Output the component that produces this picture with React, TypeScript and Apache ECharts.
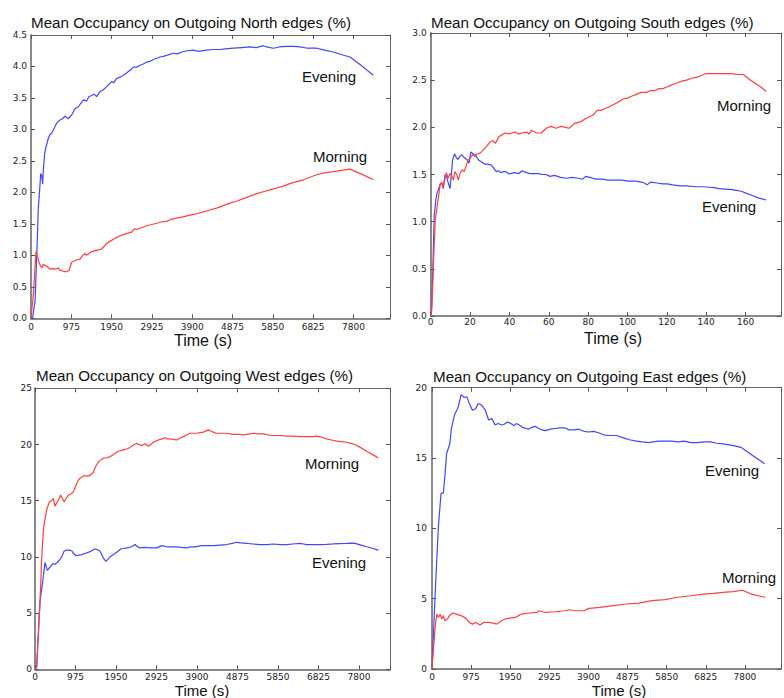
import React, { useEffect, useRef } from 'react';
import * as echarts from 'echarts';

// ---------- data: [time (s), mean occupancy (%)] ----------
const northEvening = [
  [0, 0], [40, 0.02], [97, 0.26], [137, 0.95], [177, 1.75], [218, 2.12], [234, 2.3], [258, 2.27], [282, 2.13], [298, 2.35],
  [330, 2.62], [355, 2.7], [419, 2.86], [460, 2.92], [500, 2.94], [540, 2.99], [621, 3.1], [702, 3.15], [760, 3.17], [822, 3.21],
  [903, 3.17], [983, 3.23], [1064, 3.33], [1145, 3.36], [1266, 3.47], [1346, 3.45], [1400, 3.52], [1467, 3.54], [1530, 3.56],
  [1588, 3.52], [1669, 3.6], [1750, 3.63], [1830, 3.68], [1951, 3.76], [2000, 3.74], [2072, 3.81], [2150, 3.83], [2233, 3.86],
  [2320, 3.9], [2395, 3.94], [2480, 3.99], [2556, 3.99], [2640, 4.02], [2717, 4.04], [2800, 4.07], [2879, 4.08], [2960, 4.11],
  [3040, 4.13], [3120, 4.15], [3201, 4.16], [3300, 4.18], [3443, 4.21], [3540, 4.2], [3644, 4.23], [3780, 4.25], [3926, 4.26],
  [4050, 4.24], [4248, 4.26], [4400, 4.27], [4572, 4.27], [4700, 4.28], [4894, 4.29], [5100, 4.3], [5298, 4.31], [5450, 4.3],
  [5620, 4.33], [5700, 4.31], [5862, 4.29], [6000, 4.31], [6185, 4.32], [6350, 4.32], [6507, 4.31], [6700, 4.29], [6911, 4.29],
  [7100, 4.26], [7313, 4.23], [7500, 4.19], [7717, 4.15], [8000, 4.01], [8281, 3.86],
];
const northMorning = [
  [0, 0], [60, 0.4], [121, 1.06], [153, 1.0], [202, 0.87], [258, 0.8], [298, 0.86], [340, 0.84], [379, 0.83], [460, 0.78],
  [520, 0.79], [581, 0.78], [661, 0.8], [700, 0.76], [742, 0.76], [800, 0.74], [863, 0.74], [919, 0.76], [983, 0.89], [1050, 0.91],
  [1105, 0.93], [1185, 0.94], [1250, 1.0], [1306, 1.03], [1340, 1.0], [1387, 1.02], [1467, 1.06], [1530, 1.07], [1588, 1.08],
  [1709, 1.1], [1770, 1.14], [1830, 1.19], [1930, 1.23], [2032, 1.27], [2120, 1.3], [2233, 1.33], [2330, 1.35], [2435, 1.37],
  [2500, 1.42], [2560, 1.41], [2636, 1.43], [2798, 1.47], [2920, 1.49], [3040, 1.51], [3150, 1.53], [3282, 1.54], [3380, 1.57],
  [3524, 1.59], [3680, 1.61], [3846, 1.64], [4000, 1.66], [4168, 1.69], [4330, 1.72], [4491, 1.75], [4650, 1.79], [4813, 1.83],
  [4970, 1.86], [5136, 1.9], [5300, 1.94], [5458, 1.98], [5620, 2.01], [5781, 2.04], [5940, 2.07], [6103, 2.1], [6260, 2.14],
  [6426, 2.17], [6590, 2.2], [6749, 2.24], [6911, 2.28], [7100, 2.31], [7313, 2.33], [7500, 2.35], [7717, 2.37], [7999, 2.29],
  [8281, 2.2],
];
const southMorning = [
  [0, 0], [0.5, 0.05], [1.0, 0.3], [1.5, 0.61], [2.3, 1.02], [3.0, 1.12], [3.6, 1.21], [4.2, 1.3], [4.8, 1.39], [5.6, 1.42],
  [6.3, 1.36], [7.2, 1.45], [8.0, 1.52], [8.8, 1.46], [9.8, 1.51], [10.8, 1.48], [11.5, 1.44], [12.3, 1.53], [13.2, 1.5],
  [14.0, 1.44], [14.9, 1.51], [16.0, 1.55], [17.0, 1.53], [18.0, 1.59], [18.9, 1.65], [20.0, 1.67], [21.3, 1.71], [22.5, 1.69],
  [23.5, 1.72], [24.6, 1.72], [25.8, 1.74], [27.1, 1.77], [28.5, 1.8], [30.4, 1.85], [31.5, 1.86], [32.9, 1.83], [34.6, 1.9],
  [36.2, 1.92], [37.9, 1.94], [39.5, 1.93], [41.2, 1.94], [42.9, 1.95], [44.5, 1.93], [46.2, 1.94], [48.7, 1.95], [50, 1.93],
  [51.2, 1.97], [53.7, 1.94], [56.2, 1.94], [58.7, 1.99], [61.2, 2.01], [63.7, 1.99], [66.3, 2.01], [68.5, 2.0], [70.4, 1.99],
  [72.9, 2.04], [76.3, 2.06], [78.5, 2.09], [80.4, 2.11], [82.5, 2.13], [84.6, 2.18], [86.5, 2.18], [88.7, 2.2], [91, 2.22],
  [93.7, 2.25], [95.5, 2.27], [97.8, 2.3], [100, 2.31], [102, 2.33], [104.5, 2.35], [107, 2.37], [109.5, 2.37], [111.9, 2.39],
  [114, 2.39], [116, 2.41], [118, 2.41], [120.2, 2.43], [122.5, 2.45], [125.1, 2.47], [127.5, 2.49], [130, 2.5], [132.5, 2.52],
  [135, 2.53], [137.5, 2.55], [139.9, 2.57], [143, 2.57], [146.5, 2.57], [150, 2.57], [153.2, 2.57], [156, 2.56], [158.9, 2.56],
  [161.8, 2.51], [164.7, 2.47], [167.6, 2.43], [170.5, 2.38],
];
const southEvening = [
  [0, 0], [0.5, 0.1], [1.0, 0.43], [1.8, 1.07], [2.6, 1.23], [3.2, 1.3], [3.9, 1.34], [4.8, 1.4], [5.6, 1.41], [6.4, 1.35],
  [7.3, 1.5], [8.0, 1.48], [8.8, 1.42], [9.8, 1.35], [10.5, 1.5], [11.1, 1.65], [12.1, 1.72], [13.0, 1.68], [13.8, 1.66],
  [14.8, 1.69], [15.8, 1.71], [17.0, 1.68], [18.3, 1.66], [19.5, 1.62], [20.4, 1.74], [21.4, 1.72], [22.5, 1.71], [23.5, 1.68],
  [24.5, 1.65], [26, 1.63], [27.5, 1.61], [29, 1.61], [30.8, 1.6], [32, 1.57], [33.3, 1.53], [34.5, 1.54], [35.7, 1.52],
  [37, 1.53], [38.2, 1.53], [39.5, 1.51], [40.7, 1.51], [42.5, 1.52], [44.8, 1.51], [46.5, 1.54], [48.5, 1.52], [50.6, 1.51],
  [52.5, 1.51], [54.8, 1.51], [56.5, 1.5], [58.5, 1.5], [60.6, 1.48], [63, 1.49], [66, 1.47], [68.9, 1.46], [72, 1.47],
  [75, 1.46], [77.1, 1.45], [78.8, 1.48], [81, 1.47], [83.8, 1.45], [87, 1.45], [90, 1.44], [93.7, 1.44], [97, 1.44],
  [100.3, 1.43], [104, 1.43], [107, 1.42], [108.6, 1.41], [109.9, 1.39], [111.9, 1.42], [115, 1.41], [118, 1.4], [120.2, 1.4],
  [123, 1.39], [126.8, 1.38], [130, 1.38], [135, 1.37], [138, 1.37], [141.6, 1.365], [144, 1.36], [146.5, 1.35], [150, 1.345],
  [153.2, 1.34], [156, 1.33], [158.1, 1.32], [160.5, 1.3], [163.1, 1.28], [166.8, 1.25], [170.5, 1.23],
];
const westMorning = [
  [0, 0], [40, 0.2], [120, 6.0], [161, 9.9], [200, 12.3], [224, 13.0], [281, 14.2], [345, 14.9], [400, 15.0], [441, 15.2],
  [481, 14.5], [537, 14.9], [580, 15.2], [618, 15.5], [660, 15.2], [698, 14.9], [750, 15.2], [802, 15.5], [860, 15.6], [907, 15.7],
  [950, 16.0], [987, 16.4], [1040, 16.8], [1083, 17.0], [1163, 17.2], [1230, 17.2], [1307, 17.2], [1360, 17.4], [1404, 17.5],
  [1440, 17.9], [1484, 18.2], [1540, 18.5], [1605, 18.7], [1660, 18.8], [1725, 18.8], [1790, 18.9], [1845, 19.0], [1920, 19.2],
  [2006, 19.4], [2100, 19.5], [2206, 19.6], [2270, 19.7], [2327, 19.85], [2390, 20.0], [2447, 20.1], [2510, 20.0], [2567, 19.9],
  [2648, 20.06], [2690, 19.95], [2728, 19.85], [2790, 20.0], [2848, 20.2], [2910, 20.3], [2969, 20.4], [3050, 20.5], [3129, 20.6],
  [3190, 20.5], [3250, 20.5], [3330, 20.45], [3410, 20.4], [3490, 20.55], [3571, 20.7], [3650, 20.85], [3731, 21.0], [3810, 21.0],
  [3892, 21.0], [3970, 21.05], [4052, 21.1], [4172, 21.3], [4230, 21.2], [4293, 21.1], [4350, 21.0], [4413, 21.0], [4500, 21.0],
  [4613, 21.0], [4700, 20.95], [4774, 20.9], [4900, 20.9], [5020, 20.85], [5100, 20.9], [5256, 21.0], [5380, 20.95], [5497, 20.95],
  [5600, 20.85], [5737, 20.8], [5900, 20.8], [6058, 20.75], [6200, 20.75], [6379, 20.7], [6550, 20.7], [6700, 20.7], [6780, 20.75],
  [6900, 20.65], [7021, 20.5], [7140, 20.4], [7262, 20.3], [7380, 20.25], [7503, 20.2], [7600, 20.1], [7703, 20.0], [7850, 19.7],
  [7984, 19.4], [8130, 19.1], [8265, 18.8],
];
const westEvening = [
  [0, 0], [40, 0.2], [120, 6.0], [185, 7.8], [241, 9.5], [297, 8.8], [361, 9.1], [425, 9.4], [481, 9.35], [537, 9.5], [586, 9.7],
  [642, 10.0], [698, 10.5], [762, 10.6], [820, 10.6], [882, 10.55], [930, 10.3], [987, 10.1], [1050, 10.15], [1123, 10.2],
  [1200, 10.3], [1284, 10.4], [1340, 10.5], [1388, 10.6], [1444, 10.7], [1500, 10.65], [1564, 10.5], [1610, 10.2], [1645, 9.9],
  [1709, 9.6], [1760, 9.8], [1805, 10.0], [1860, 10.15], [1925, 10.3], [2000, 10.5], [2062, 10.7], [2130, 10.75], [2206, 10.8],
  [2270, 10.85], [2327, 10.9], [2407, 11.1], [2470, 10.9], [2527, 10.8], [2650, 10.85], [2780, 10.8], [2929, 10.8], [3049, 11.0],
  [3169, 10.9], [3300, 10.9], [3420, 10.9], [3520, 10.85], [3651, 10.8], [3750, 10.9], [3852, 10.9], [4012, 11.0], [4150, 11.0],
  [4300, 11.0], [4450, 11.05], [4613, 11.1], [4750, 11.2], [4854, 11.3], [4950, 11.25], [5095, 11.2], [5250, 11.15], [5416, 11.1],
  [5580, 11.1], [5737, 11.15], [5900, 11.1], [6058, 11.1], [6200, 11.15], [6379, 11.2], [6460, 11.15], [6540, 11.1], [6700, 11.1],
  [6861, 11.1], [7020, 11.12], [7182, 11.15], [7340, 11.18], [7503, 11.2], [7620, 11.22], [7703, 11.2], [7850, 11.05],
  [7984, 10.9], [8130, 10.75], [8265, 10.6],
];
const eastEvening = [
  [0, 0], [80, 5.45], [161, 10.2], [226, 12.5], [282, 12.5], [322, 13.7], [363, 15.3], [443, 16.0], [484, 17.1], [564, 18.1],
  [645, 18.55], [726, 19.5], [806, 19.3], [871, 19.35], [927, 18.9], [1008, 18.4], [1089, 18.5], [1145, 18.86], [1226, 18.8],
  [1330, 18.4], [1411, 17.7], [1492, 17.8], [1572, 17.36], [1653, 17.45], [1734, 17.35], [1800, 17.4], [1870, 17.55],
  [1935, 17.5], [2050, 17.3], [2100, 17.45], [2177, 17.35], [2250, 17.2], [2338, 17.1], [2400, 17.05], [2500, 17.2],
  [2580, 17.25], [2661, 17.1], [2740, 17.0], [2822, 16.95], [2950, 17.05], [3064, 17.1], [3180, 17.15], [3306, 17.15],
  [3420, 17.0], [3548, 17.0], [3650, 17.05], [3790, 16.9], [3900, 16.85], [4032, 16.9], [4150, 16.8], [4274, 16.65],
  [4420, 16.6], [4596, 16.6], [4750, 16.45], [4919, 16.3], [5100, 16.2], [5241, 16.15], [5403, 16.1], [5500, 16.15],
  [5644, 16.2], [5800, 16.2], [5967, 16.2], [6128, 16.15], [6289, 16.2], [6450, 16.1], [6612, 16.1], [6780, 16.15],
  [6935, 16.15], [7100, 16.05], [7257, 16.0], [7480, 15.9], [7700, 15.76], [7983, 15.2], [8290, 14.6],
];
const eastMorning = [
  [0, 0], [81, 3.07], [121, 3.9], [161, 3.66], [202, 3.9], [242, 3.55], [282, 3.8], [323, 3.43], [387, 3.55], [444, 3.83],
  [524, 3.98], [605, 3.9], [685, 3.83], [766, 3.74], [847, 3.6], [927, 3.31], [1008, 3.19], [1089, 3.31], [1194, 3.12],
  [1290, 3.31], [1411, 3.31], [1532, 3.26], [1613, 3.19], [1733, 3.43], [1814, 3.55], [1935, 3.62], [2080, 3.67], [2217, 3.9],
  [2419, 3.98], [2620, 4.02], [2660, 4.14], [2822, 4.02], [3064, 4.07], [3306, 4.14], [3427, 4.21], [3548, 4.14], [3790, 4.14],
  [3911, 4.31], [4193, 4.38], [4516, 4.5], [4838, 4.62], [5161, 4.69], [5483, 4.86], [5806, 4.93], [6128, 5.1], [6451, 5.21],
  [6773, 5.33], [7015, 5.38], [7257, 5.45], [7500, 5.5], [7741, 5.6], [7983, 5.3], [8306, 5.1],
];

const titles = [
  'Mean Occupancy on Outgoing North edges (%)',
  'Mean Occupancy on Outgoing South edges (%)',
  'Mean Occupancy on Outgoing West edges (%)',
  'Mean Occupancy on Outgoing East edges (%)',
];
const xAxisName = 'Time (s)';
const seriesNames = ['Evening', 'Morning'];

// ---------- layout (pixels) ----------
const panels = [
  { evening: northEvening, morning: northMorning, left: 31, top: 35, width: 359, height: 283.3, xMax: 8685, xInt: 975, xLabelMax: 7800, yMax: 4.5, yInt: 0.5, dec: 1, xMargin: 4, yMargin: 4,
    titleX: 31, titleY: 22, nameX: 203, nameY: 340, nameSize: 16, eveX: 302, eveY: 76, morX: 313, morY: 156 },
  { evening: southEvening, morning: southMorning, left: 430.7, top: 33, width: 358.7, height: 283, xMax: 178, xInt: 20, xLabelMax: 160, yMax: 3, yInt: 0.5, dec: 1, xMargin: 1.5, yMargin: 4,
    titleX: 431, titleY: 22, nameX: 613, nameY: 338, nameSize: 16, eveX: 702, eveY: 206.5, morX: 717, morY: 105 },
  { evening: westEvening, morning: westMorning, left: 35, top: 388.3, width: 355, height: 281, xMax: 8545, xInt: 975, xLabelMax: 7800, yMax: 25, yInt: 5, dec: 0, xMargin: 3, yMargin: 3,
    titleX: 36, titleY: 375, nameX: 202, nameY: 690.5, nameSize: 15, eveX: 312, eveY: 562.5, morX: 305, morY: 463.5 },
  { evening: eastEvening, morning: eastMorning, left: 432, top: 387.7, width: 359.6, height: 281.3, xMax: 8700, xInt: 975, xLabelMax: 7800, yMax: 20, yInt: 5, dec: 0, xMargin: 3, yMargin: 5,
    titleX: 433, titleY: 376, nameX: 619, nameY: 690.5, nameSize: 15, eveX: 705, eveY: 470, morX: 722, morY: 577.5 },
];

const BLUE = '#4545ff';
const RED = '#ff4040';
const TICK_FONT = 'DejaVu Sans';
const TEXT_FONT = 'Liberation Sans, Arial, sans-serif';

function buildOption() {
  const grid: any[] = [];
  const xAxis: any[] = [];
  const yAxis: any[] = [];
  const series: any[] = [];
  const graphic: any[] = [];

  panels.forEach((p, i) => {
    grid.push({ left: p.left, top: p.top, width: p.width, height: p.height, containLabel: false });
    const tick = { show: true, inside: true, length: 4, lineStyle: { color: '#555', width: 1 } };
    const labelStyle = { fontSize: 9, fontFamily: TICK_FONT, color: '#222' };
    xAxis.push({
      gridIndex: i, type: 'value', min: 0, max: p.xMax, interval: p.xInt, position: 'bottom',
      axisLine: { show: true, onZero: false, lineStyle: { color: '#8a8a8a', width: 2 } },
      axisTick: tick,
      axisLabel: {
        ...labelStyle, margin: p.xMargin, showMaxLabel: true, showMinLabel: true,
        formatter: (v: number) => (Math.abs(v % p.xInt) < 1e-6 && v <= p.xLabelMax + 1e-6 ? String(Math.round(v)) : ''),
      },
      splitLine: { show: false },
    });
    xAxis.push({
      gridIndex: i, type: 'value', min: 0, max: p.xMax, interval: p.xInt, position: 'top',
      axisLine: { show: true, onZero: false, lineStyle: { color: '#666', width: 1 } },
      axisTick: tick, axisLabel: { show: false }, splitLine: { show: false },
    });
    yAxis.push({
      gridIndex: i, type: 'value', min: 0, max: p.yMax, interval: p.yInt, position: 'left',
      axisLine: { show: true, onZero: false, lineStyle: { color: '#8a8a8a', width: 2 } },
      axisTick: tick,
      axisLabel: { ...labelStyle, margin: p.yMargin, formatter: (v: number) => v.toFixed(p.dec) },
      splitLine: { show: false },
    });
    yAxis.push({
      gridIndex: i, type: 'value', min: 0, max: p.yMax, interval: p.yInt, position: 'right',
      axisLine: { show: true, onZero: false, lineStyle: { color: '#666', width: 1 } },
      axisTick: tick, axisLabel: { show: false }, splitLine: { show: false },
    });

    const common = { type: 'line', xAxisIndex: i * 2, yAxisIndex: i * 2, showSymbol: false, symbol: 'none', silent: true, z: 3 };
    series.push({ ...common, name: `${seriesNames[0]} ${i}`, data: p.evening, lineStyle: { color: BLUE, width: 1.2 }, itemStyle: { color: BLUE } });
    series.push({ ...common, name: `${seriesNames[1]} ${i}`, data: p.morning, lineStyle: { color: RED, width: 1.2 }, itemStyle: { color: RED } });

    graphic.push({ type: 'text', x: p.titleX, y: p.titleY, style: { text: titles[i], font: `15.2px ${TEXT_FONT}`, fill: '#111', align: 'left', verticalAlign: 'middle' } });
    graphic.push({ type: 'text', x: p.nameX, y: p.nameY, style: { text: xAxisName, font: `${p.nameSize}px ${TEXT_FONT}`, fill: '#111', align: 'center', verticalAlign: 'middle' } });
    graphic.push({ type: 'text', x: p.eveX, y: p.eveY, style: { text: seriesNames[0], font: `15px ${TEXT_FONT}`, fill: '#111', align: 'left', verticalAlign: 'middle' } });
    graphic.push({ type: 'text', x: p.morX, y: p.morY, style: { text: seriesNames[1], font: `15px ${TEXT_FONT}`, fill: '#111', align: 'left', verticalAlign: 'middle' } });
  });

  return { animation: false, backgroundColor: '#ffffff', grid, xAxis, yAxis, series, graphic };
}

export default function App() {
  const ref = useRef<HTMLDivElement>(null);
  useEffect(() => {
    if (!ref.current) return;
    const chart = echarts.init(ref.current, undefined, { renderer: 'svg' });
    chart.setOption(buildOption() as any);
    return () => chart.dispose();
  }, []);
  return <div ref={ref} style={{ position: 'absolute', left: 0, top: 0, width: 784, height: 698, background: '#fff' }} />;
}
